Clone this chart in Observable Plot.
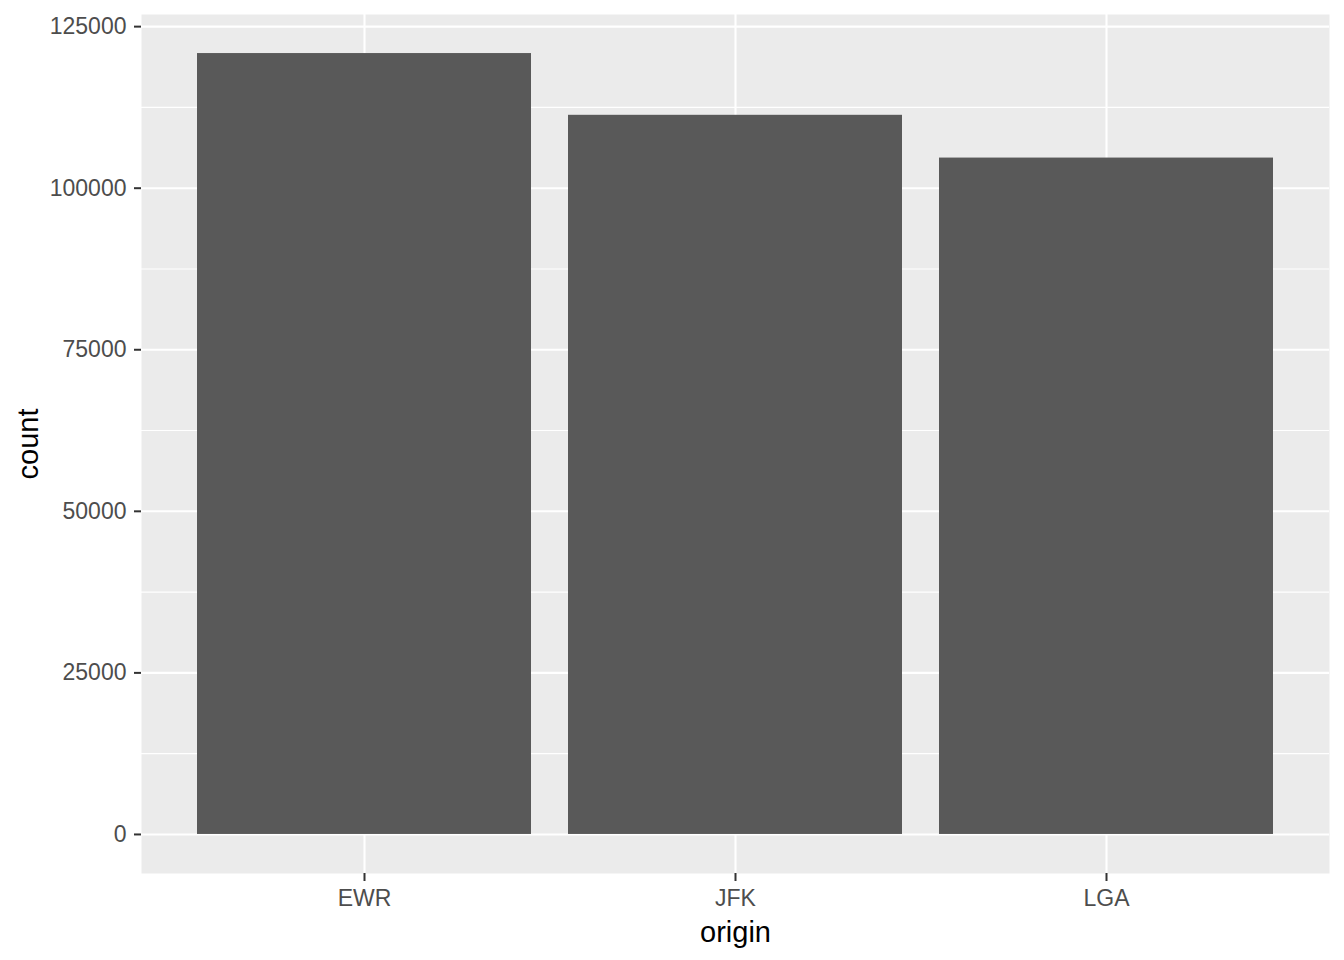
<!DOCTYPE html>
<html>
<head>
<meta charset="utf-8">
<script src="https://cdn.jsdelivr.net/npm/d3@7"></script>
<script src="https://cdn.jsdelivr.net/npm/@observablehq/plot@0.6"></script>
<style>
  html, body { margin: 0; padding: 0; background: #fff; }
  svg { display: block; }
</style>
</head>
<body>
<div id="chart"></div>
<script>
const origins = ["EWR", "JFK", "LGA"];
const counts = [120835, 111279, 104662];
const yTicks = [0, 25000, 50000, 75000, 100000, 125000];
const yMinor = [12500, 37500, 62500, 87500, 112500];

const data = origins.map((o, i) => ({origin: o, count: counts[i]}));
const maxC = d3.max(counts);
const pad = maxC * 0.05;

const font = "'Liberation Sans', Arial, sans-serif";

const chart = Plot.plot({
  width: 1344,
  height: 960,
  marginLeft: 141,
  marginRight: 15,
  marginTop: 14,
  marginBottom: 87,
  style: {fontFamily: font, background: "#fff"},
  x: {type: "band", domain: origins, paddingInner: 0.1, paddingOuter: 0.15, label: null},
  y: {domain: [-pad, maxC + pad], label: null},
  marks: [
    Plot.frame({fill: "#EBEBEB", stroke: null}),
    Plot.ruleY(yMinor, {stroke: "white", strokeWidth: 1.1}),
    Plot.ruleY(yTicks, {stroke: "white", strokeWidth: 2.1}),
    Plot.gridX({stroke: "white", strokeOpacity: 1, strokeWidth: 2.1}),
    Plot.barY(data, {x: "origin", y: "count", fill: "#595959"}),
    Plot.axisY({ticks: yTicks, tickSize: 7, text: null, stroke: "#333333", strokeWidth: 2, label: null}),
    Plot.axisY({ticks: yTicks, tickSize: 0, tickPadding: 15, tickFormat: d => String(d), fill: "#4D4D4D", fontSize: 23, label: null}),
    Plot.axisX({tickSize: 8, text: null, stroke: "#333333", strokeWidth: 2, label: null}),
    Plot.axisX({tickSize: 0, tickPadding: 16, fill: "#4D4D4D", fontSize: 23, label: null}),
    Plot.text(["origin"], {frameAnchor: "bottom", dy: 59, lineAnchor: "middle", fontSize: 29, fill: "black", fontFamily: font}),
    Plot.text(["count"], {frameAnchor: "left", dx: -113, rotate: -90, textAnchor: "middle", lineAnchor: "middle", fontSize: 29, fill: "black", fontFamily: font})
  ]
});
document.getElementById("chart").appendChild(chart);
</script>
</body>
</html>
